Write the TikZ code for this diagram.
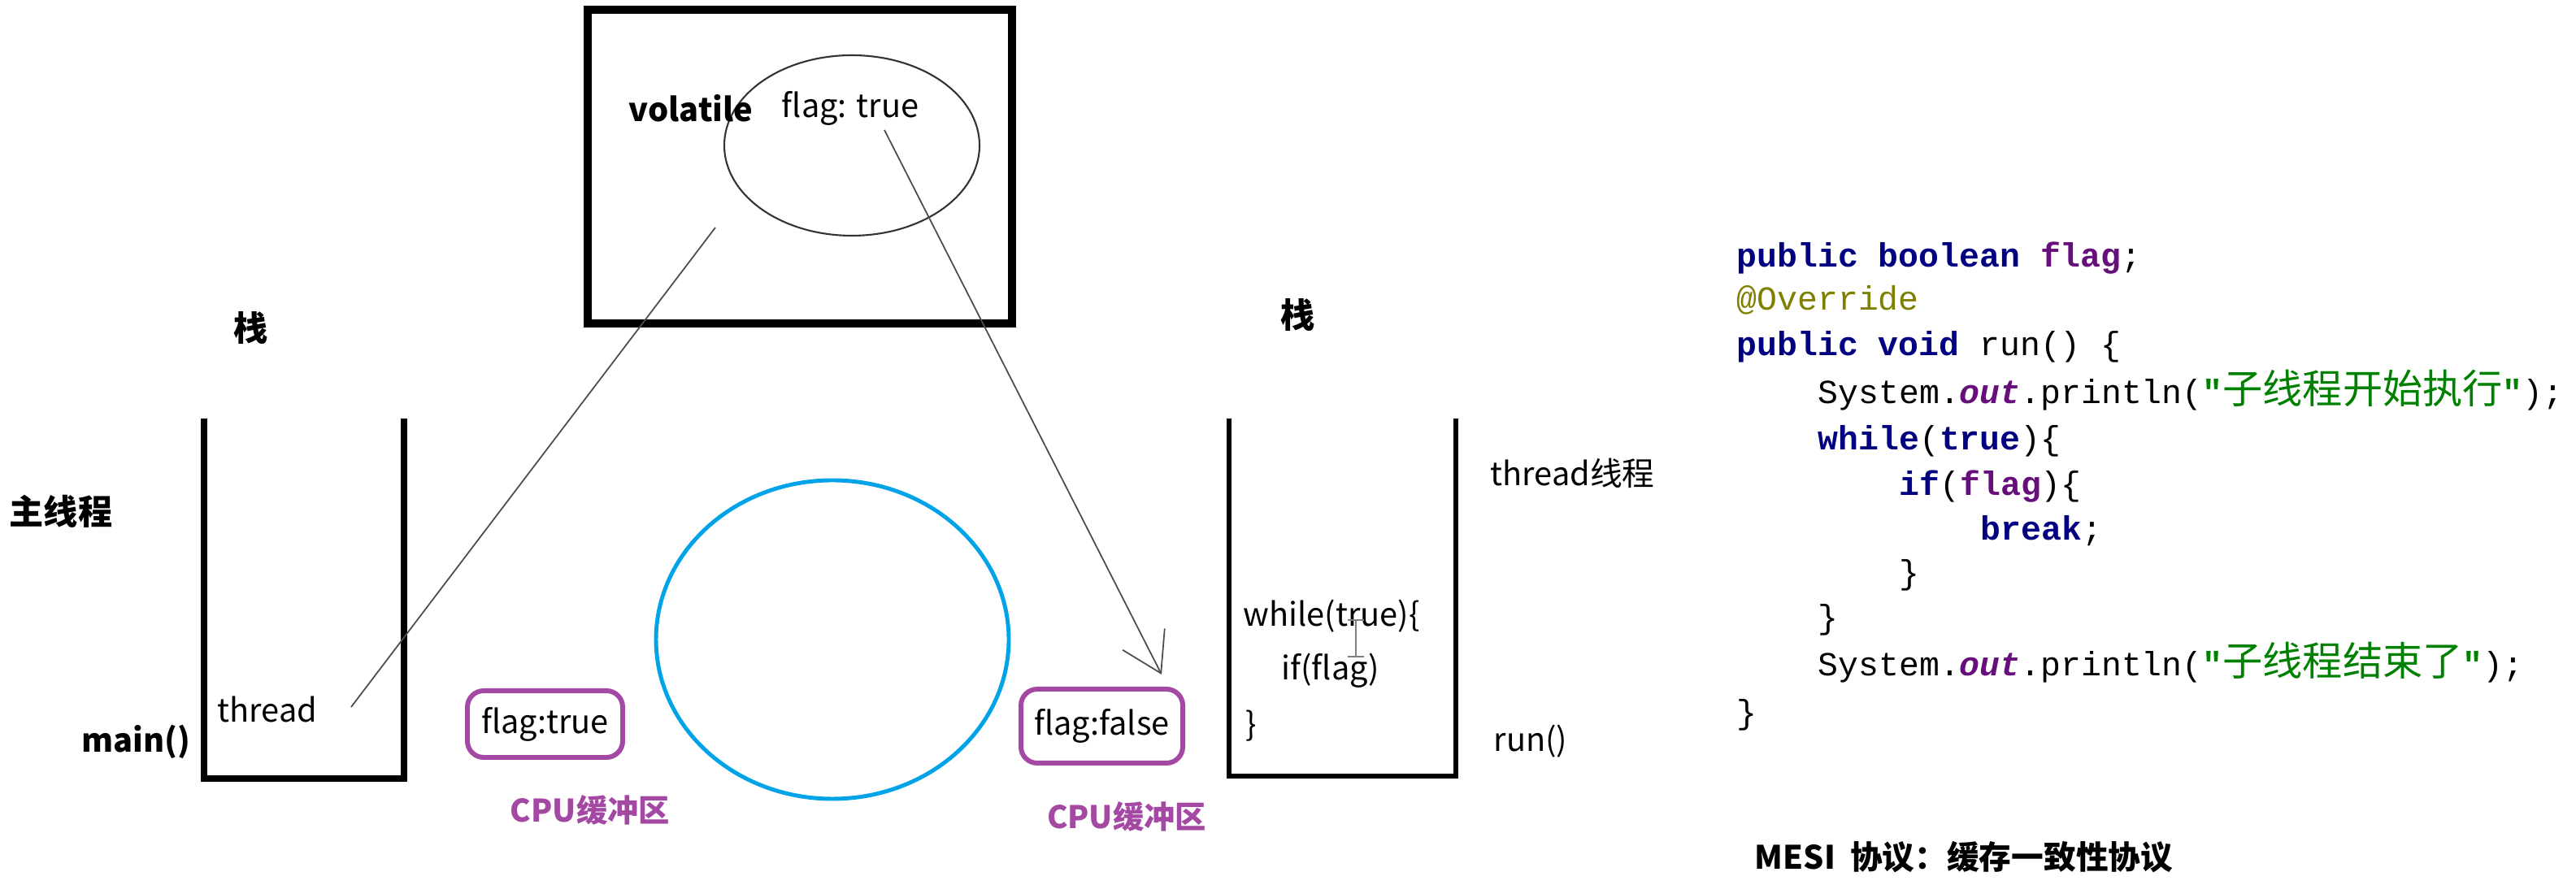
\documentclass[tikz,border=0pt]{standalone}
\usepackage{fontspec}
\setmainfont{Noto Sans CJK SC}
\setmonofont{Liberation Mono}
\newfontfamily\cjk{Noto Sans CJK SC}
\usepackage{xcolor}
\usetikzlibrary{arrows.meta, shapes.geometric, positioning}

\definecolor{paintpurple}{RGB}{163,73,164}
\definecolor{paintblue}{RGB}{0,162,232}
\definecolor{kwblue}{RGB}{0,0,128}
\definecolor{fldpurple}{RGB}{102,14,122}
\definecolor{annolive}{RGB}{128,128,0}
\definecolor{strgreen}{RGB}{0,128,0}

\newcommand{\kw}[1]{\textcolor{kwblue}{\textbf{#1}}}
\newcommand{\fld}[1]{\textcolor{fldpurple}{\textbf{#1}}}
\newcommand{\sfld}[1]{\textcolor{fldpurple}{\textbf{\textit{#1}}}}
\newcommand{\jstr}[1]{\textcolor{strgreen}{\textbf{"}{\cjk\mdseries\fontsize{14}{16}\selectfont #1}\textbf{"}}}

\tikzset{
  lbl/.style={inner sep=0pt, font=\fontsize{11.3}{14}\selectfont},
  blbl/.style={lbl, font=\fontsize{11.3}{14}\selectfont\bfseries},
  cjklbl/.style={lbl, font=\fontsize{12}{14}\selectfont\bfseries},
  cache/.style={draw=paintpurple, line width=1.7pt, rounded corners=0.2cm,
                inner sep=0pt, font=\fontsize{11.3}{14}\selectfont},
  cpulbl/.style={inner sep=0pt, text=paintpurple, font=\fontsize{10.9}{14}\selectfont\bfseries},
  code/.style={anchor=base west, inner sep=0pt, font=\ttfamily\fontsize{11.8}{14}\selectfont},
  refline/.style={draw=black!70, line width=0.5pt},
}

\begin{document}
\begin{tikzpicture}[>=latex]
    \useasboundingbox (0,0) rectangle (31.69,10.89);

    % 1. Heap (main memory) with the volatile field
    \node[draw, line width=2.85pt, minimum width=5.22cm, minimum height=3.86cm] (heap) at (9.84, 8.84) {};
    \node[draw=black!80, line width=0.6pt, ellipse, minimum width=3.14cm, minimum height=2.22cm] (memEll) at (10.48, 9.10) {};
    \node[blbl] (volLbl) at (8.50, 9.56) {volatile};
    \node[lbl] (memFlag) at (10.46, 9.56) {flag: true};

    % 2. Left stack: main thread
    \node[cjklbl] (stackL) at (3.09, 6.85) {栈};
    \node[cjklbl] (mainThr) at (0.75, 4.60) {主线程};
    \draw[line width=2.5pt] (2.51, 5.74) -- (2.51, 1.31) -- (4.97, 1.31) -- (4.97, 5.74);
    \node[lbl] (thread) at (3.29, 2.16) {thread};
    \node[blbl] (mainFn) at (1.67, 1.76) {main()};

    % 3. CPU caches and the bus
    \node[cache, minimum width=1.91cm, minimum height=0.82cm] (cacheT) at (6.705, 1.98) {flag:true};
    \node[cpulbl] (cpuT) at (7.26, 0.92) {CPU缓冲区};
    \node[draw=paintblue, line width=1.4pt, ellipse, minimum width=4.34cm, minimum height=3.92cm] (bus) at (10.24, 3.02) {};
    \node[cache, minimum width=1.99cm, minimum height=0.91cm] (cacheF) at (13.555, 1.955) {flag:false};
    \node[cpulbl] (cpuF) at (13.86, 0.84) {CPU缓冲区};

    % 4. Right stack: child thread
    \node[cjklbl] (stackR) at (15.97, 7.01) {栈};
    \draw[line width=1.7pt] (15.12, 5.74) -- (15.12, 1.34) -- (17.91, 1.34) -- (17.91, 5.74);
    \node[lbl, anchor=west] (loopW) at (15.29, 3.31) {while(true)\{};
    \node[lbl, anchor=west] (loopIf) at (15.76, 2.64) {if(flag)};
    \node[lbl, anchor=west] (loopEnd) at (15.32, 1.96) {\}};
    \node[lbl, anchor=west] (thrLbl) at (18.33, 5.07) {thread线程};
    \node[lbl, anchor=west] (runFn) at (18.37, 1.77) {run()};
    % text cursor
    \draw[gray, line width=0.6pt] (16.58, 3.26) -- (16.78, 3.26)
        (16.68, 3.26) -- (16.68, 2.81) (16.58, 2.81) -- (16.78, 2.81);

    % 5. Reference lines
    \coordinate (heapRef) at (8.80, 8.09);
    \coordinate (threadRef) at (4.32, 2.19);
    \coordinate (flagTail) at (10.88, 9.29);
    \coordinate (flagTip) at (14.29, 2.59);
    \draw[refline] (heapRef) -- (threadRef);
    \draw[refline, -{Straight Barb[length=4.7mm, width=5.8mm]}] (flagTail) -- (flagTip);

    % 6. Code
    \node[code] (c1) at (21.36, 7.60) {\kw{public} \kw{boolean} \fld{flag};};
    \node[code] (c2) at (21.36, 7.07) {\textcolor{annolive}{@Override}};
    \node[code] (c3) at (21.36, 6.51) {\kw{public} \kw{void} run() \{};
    \node[code] (c4) at (22.36, 5.92) {System.\sfld{out}.println(\jstr{子线程开始执行});};
    \node[code] (c5) at (22.36, 5.35) {\kw{while}(\kw{true})\{};
    \node[code] (c6) at (23.36, 4.79) {\kw{if}(\fld{flag})\{};
    \node[code] (c7) at (24.36, 4.24) {\kw{break};};
    \node[code] (c8) at (23.36, 3.70) {\}};
    \node[code] (c9) at (22.36, 3.15) {\}};
    \node[code] (c10) at (22.36, 2.57) {System.\sfld{out}.println(\jstr{子线程结束了});};
    \node[code] (c11) at (21.36, 1.98) {\}};

    \node[blbl] (mesi) at (24.16, 0.34) {MESI\ \ 协议：缓存一致性协议};

\end{tikzpicture}
\end{document}
